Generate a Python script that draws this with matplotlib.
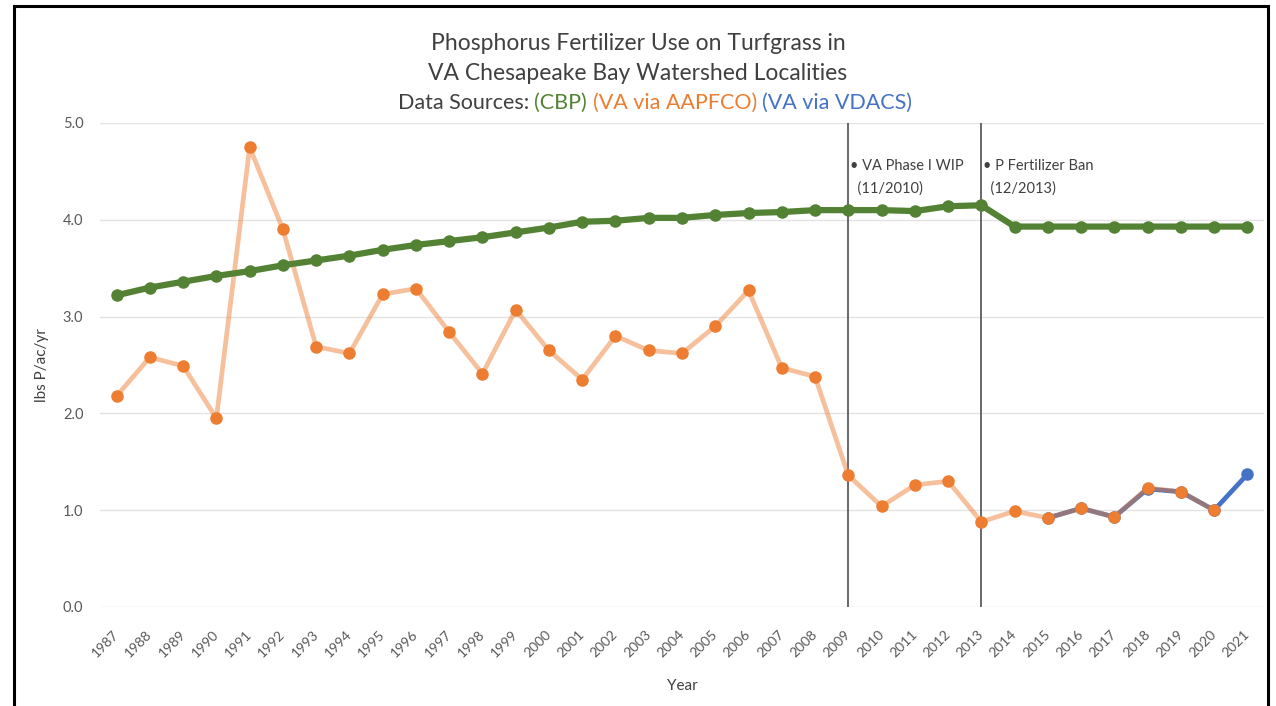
import matplotlib
matplotlib.use("Agg")
import matplotlib.pyplot as plt
from matplotlib.patches import Rectangle
from matplotlib.transforms import ScaledTranslation

plt.rcParams['font.family'] = ['Lato', 'DejaVu Sans']

years = list(range(1987, 2022))
cbp = [3.22, 3.30, 3.36, 3.42, 3.47, 3.53, 3.58, 3.63, 3.69, 3.74, 3.78, 3.82,
       3.87, 3.92, 3.98, 3.99, 4.02, 4.02, 4.05, 4.07, 4.08, 4.10, 4.10, 4.10,
       4.09, 4.14, 4.15, 3.93, 3.93, 3.93, 3.93, 3.93, 3.93, 3.93, 3.93]
aapfco_years = list(range(1987, 2021))
aapfco = [2.18, 2.58, 2.49, 1.95, 4.75, 3.90, 2.69, 2.62, 3.23, 3.29, 2.84, 2.41,
          3.07, 2.65, 2.35, 2.80, 2.65, 2.62, 2.90, 3.27, 2.47, 2.38, 1.36, 1.04,
          1.26, 1.30, 0.88, 0.99, 0.92, 1.02, 0.93, 1.23, 1.19, 1.00]
vdacs_years = list(range(2015, 2022))
vdacs = [0.92, 1.02, 0.93, 1.22, 1.19, 1.00, 1.37]
events = [(2009, "• VA Phase I WIP\n  (11/2010)"), (2013, "• P Fertilizer Ban\n  (12/2013)")]

GREEN = '#548235'
ORANGE = '#ED7D31'
BLUE = '#4472C4'
TXT = '#595959'

fig = plt.figure(figsize=(12.76, 7.06), dpi=100)
ax = fig.add_axes([100/1276, 1-607/706, (1264-100)/1276, (607-123)/706])

ax.plot(vdacs_years, vdacs, color=BLUE, lw=3.4, marker='o', ms=8,
        mfc=BLUE, mec=BLUE, zorder=3, solid_capstyle='round')
ax.plot(aapfco_years, aapfco, color=ORANGE, lw=3.4, alpha=0.48, zorder=4,
        solid_capstyle='round')
ax.plot(aapfco_years, aapfco, ls='none', marker='o', ms=8, mfc=ORANGE,
        mec=ORANGE, zorder=5)
ax.plot(years, cbp, color=GREEN, lw=4.5, marker='o', ms=8, mfc=GREEN,
        mec=GREEN, zorder=6)

for x, label in events:
    ax.axvline(x, ymin=0, ymax=1, color='#404040', lw=1.1, zorder=2)
    ax.text(x + 0.06, 4.63, label, fontsize=10.5, color='#404040', va='top',
            ha='left', linespacing=1.75)

ax.set_xlim(1986.5, 2021.5)
ax.set_ylim(0, 5)
ax.set_yticks([0, 1, 2, 3, 4, 5])
ax.set_yticklabels([f"{v:.1f}" for v in [0, 1, 2, 3, 4, 5]])
ax.set_xticks(years)
ax.set_xticklabels([str(y) for y in years], rotation=45, ha='right',
                   rotation_mode='anchor')
ax.tick_params(axis='both', length=0, labelsize=10.5, colors=TXT)
ax.tick_params(axis='x', pad=15, labelsize=10)
ax.tick_params(axis='y', pad=12)
offset = ScaledTranslation(-4/100, 0, fig.dpi_scale_trans)
for lbl in ax.get_xticklabels():
    lbl.set_transform(lbl.get_transform() + offset)
ax.grid(axis='y', color='#E3E3E3', lw=1)
ax.set_axisbelow(True)
for s in ax.spines.values():
    s.set_visible(False)
ax.set_ylabel("lbs P/ac/yr", fontsize=11, color='#404040', labelpad=10)
ax.set_xlabel("Year", fontsize=11, color='#404040', labelpad=14)

fig.text(0.5, 1-43/706, "Phosphorus Fertilizer Use on Turfgrass in",
         ha='center', va='center', fontsize=16.5, color='#404040')
fig.text(0.5, 1-73/706, "VA Chesapeake Bay Watershed Localities",
         ha='center', va='center', fontsize=16.5, color='#404040')

parts = [("Data Sources: ", '#404040'), ("(CBP) ", GREEN),
         ("(VA via AAPFCO) ", ORANGE), ("(VA via VDACS)", BLUE)]
renderer = fig.canvas.get_renderer()
texts = []
widths = []
for s, c in parts:
    t = fig.text(0, 1-103/706, s, ha='left', va='center', fontsize=15.5, color=c)
    w = t.get_window_extent(renderer=renderer).width
    texts.append(t)
    widths.append(w)
total = sum(widths)
x0 = (1310 - total) / 2
for t, w in zip(texts, widths):
    t.set_x(x0 / 1276)
    x0 += w

border = Rectangle((14/1276, -0.05), (1268-14)/1276, 1.05 - 6/706,
                   transform=fig.transFigure, fill=False, ec='black', lw=2.2,
                   clip_on=False)
fig.patches.append(border)

fig.savefig("out.png", dpi=100, facecolor='white')
